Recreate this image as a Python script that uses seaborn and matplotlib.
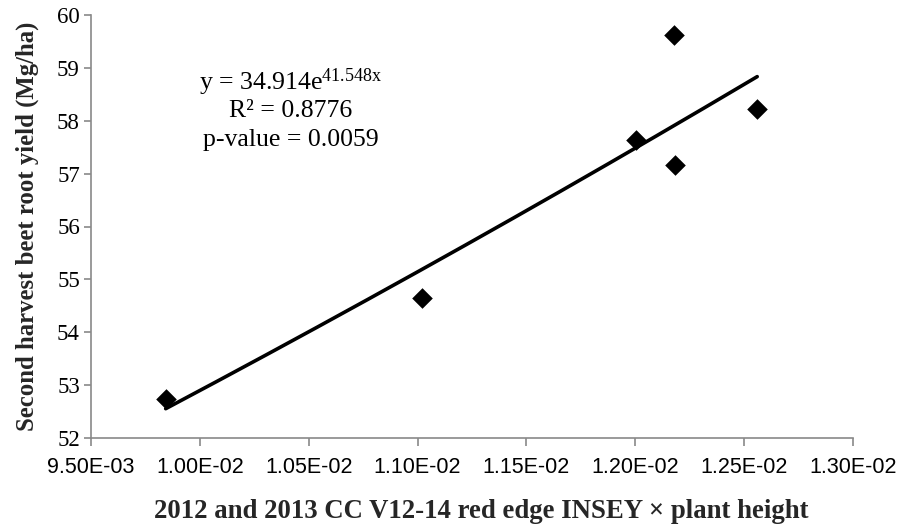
import numpy as np
import pandas as pd
import matplotlib
matplotlib.use("Agg")
import matplotlib.pyplot as plt
import seaborn as sns

# Data
insey_x = [0.009843, 0.01102, 0.012004, 0.012176, 0.012184, 0.01256]
yield_y = [52.73, 54.64, 57.63, 59.62, 57.16, 58.23]

# Exponential trendline coefficients (from the chart's equation)
coef_a = 34.914
coef_b = 41.548

x_ticks = [0.0095, 0.0100, 0.0105, 0.0110, 0.0115, 0.0120, 0.0125, 0.0130]
x_tick_labels = ["9.50E-03", "1.00E-02", "1.05E-02", "1.10E-02",
                 "1.15E-02", "1.20E-02", "1.25E-02", "1.30E-02"]
y_ticks = [52, 53, 54, 55, 56, 57, 58, 59, 60]

sns.set_theme(style="white")
plt.rcParams["mathtext.fontset"] = "custom"
plt.rcParams["mathtext.rm"] = "Liberation Serif"
plt.rcParams["mathtext.it"] = "Liberation Serif"

fig = plt.figure(figsize=(9.04, 5.32), dpi=100)
ax = fig.add_axes([91 / 904, 1 - 438 / 532, (853 - 91) / 904, (438 - 15) / 532])

df = pd.DataFrame({"x": insey_x, "y": yield_y})

# trendline
xs = np.linspace(min(insey_x), max(insey_x), 200)
trend = pd.DataFrame({"x": xs, "y": coef_a * np.exp(coef_b * xs)})
sns.lineplot(data=trend, x="x", y="y", ax=ax, color="black", linewidth=2.6,
             solid_capstyle="round", zorder=2)

sns.scatterplot(data=df, x="x", y="y", ax=ax, marker="D", color="black",
                s=110, linewidth=0, zorder=3)

ax.set_xlim(0.0095, 0.0130)
ax.set_ylim(52, 60)
ax.set_xticks(x_ticks)
ax.set_xticklabels(x_tick_labels, fontfamily="Liberation Sans", fontsize=15.5)
ax.set_yticks(y_ticks)
ax.set_yticklabels([str(v) for v in y_ticks], fontfamily="Liberation Serif", fontsize=16.5)

for s in ["top", "right"]:
    ax.spines[s].set_visible(False)
for s in ["left", "bottom"]:
    ax.spines[s].set_color("#898989")
    ax.spines[s].set_linewidth(1.2)

ax.tick_params(axis="x", direction="out", length=6, width=1.2, color="#898989",
               bottom=True, pad=8, labelcolor="black")
ax.tick_params(axis="y", direction="out", length=5, width=1.2, color="#898989",
               left=True, pad=3, labelcolor="black")
ax.grid(False)

ax.set_xlabel("2012 and 2013 CC V12-14 red edge INSEY \u00d7 plant height",
              fontfamily="Liberation Serif", fontweight="bold", fontsize=19.3)
ax.set_ylabel("Second harvest beet root yield (Mg/ha)",
              fontfamily="Liberation Serif", fontweight="bold", fontsize=17.8)
ax.xaxis.set_label_coords((481 - 91) / (853 - 91), -(499 - 438) / (438 - 15))
ax.yaxis.set_label_coords(-(91 - 39) / (853 - 91), (438 - 226) / (438 - 15))

tx = (291 - 91) / (853 - 91)
ann_kw = dict(transform=ax.transAxes, ha="center", va="center",
              fontfamily="Liberation Serif", fontsize=18.5, color="black")
ax.text(tx, (438 - 82) / (438 - 15),
        "y = %.3fe$^{%.3f\\mathrm{x}}$" % (coef_a, coef_b), **ann_kw)
ax.text(tx, (438 - 111) / (438 - 15), "R\u00b2 = 0.8776", **ann_kw)
ax.text(tx, (438 - 140) / (438 - 15), "p-value = 0.0059", **ann_kw)

fig.savefig("out.png", dpi=100)
